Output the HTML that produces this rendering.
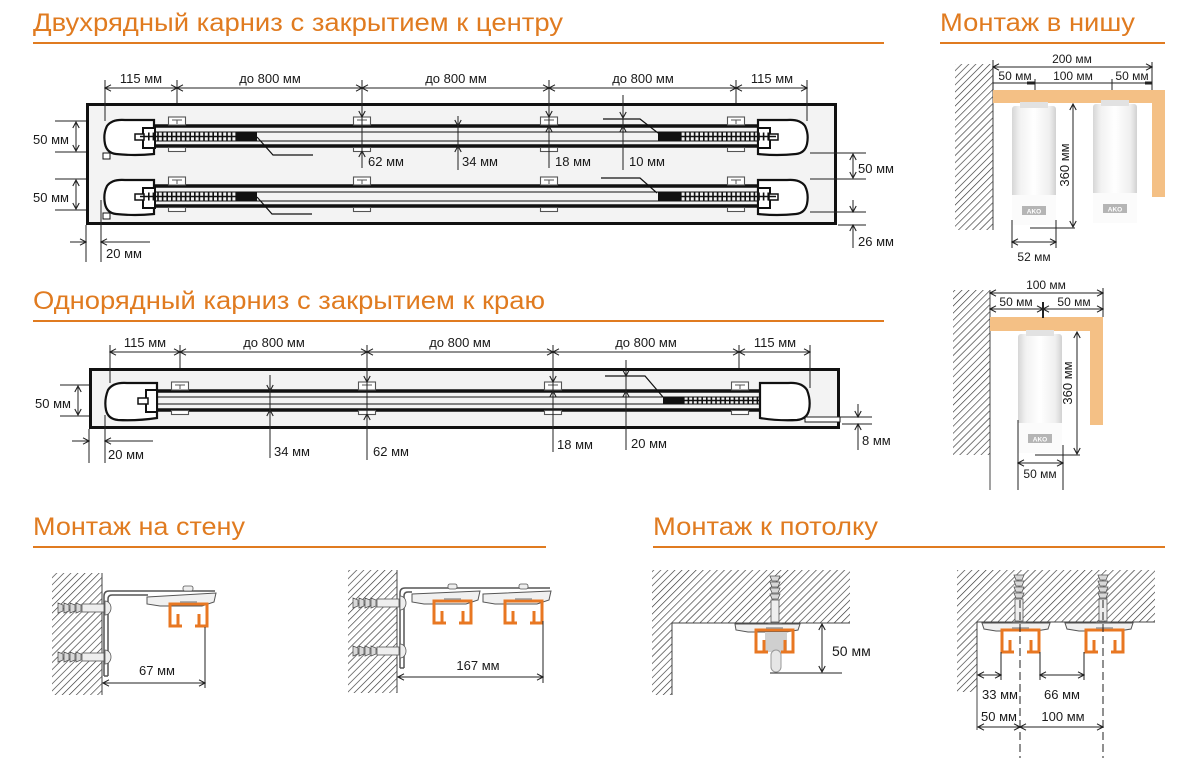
<!DOCTYPE html>
<html><head><meta charset="utf-8"><style>
html,body{margin:0;padding:0;background:#fff}
svg{display:block}
text{font-family:"Liberation Sans",sans-serif;fill:#1a1a1a}
.t{font-size:25px;fill:#E07B20}
.s{font-size:13px}
.n{font-size:12px}
</style></head><body>
<svg width="1199" height="774" viewBox="0 0 1199 774" xmlns="http://www.w3.org/2000/svg">
<defs>
<marker id="a" viewBox="0 0 8 8" refX="7" refY="4" markerWidth="8" markerHeight="8" markerUnits="userSpaceOnUse" orient="auto-start-reverse"><path d="M1,0.8 L7,4 L1,7.2" fill="none" stroke="#222" stroke-width="1.1"/></marker>
<pattern id="h" patternUnits="userSpaceOnUse" width="5" height="5" patternTransform="rotate(45)"><line x1="0" y1="0" x2="0" y2="5" stroke="#333" stroke-width="1.3"/></pattern>
<linearGradient id="tg" x1="0" x2="1" y1="0" y2="0">
<stop offset="0" stop-color="#d6d6d6"/><stop offset="0.18" stop-color="#f2f2f2"/><stop offset="0.5" stop-color="#ffffff"/><stop offset="0.85" stop-color="#efefef"/><stop offset="1" stop-color="#d2d2d2"/>
</linearGradient>
<g id="r1">
<g stroke="#111" fill="#fff" stroke-width="2.2">
<path d="M154,120 L125,120 Q112,119 107,126 Q103,134 105,144 Q107,153 116,154 Q135,156 154,154 Z"/>
<path d="M758,120 L787,120 Q800,119 805,126 Q809,134 807,144 Q805,153 796,154 Q777,156 758,154 Z"/>
<rect x="143" y="128" width="12" height="20" stroke-width="2"/>
<rect x="135" y="134" width="9" height="6" stroke-width="1.5"/>
<rect x="758" y="128" width="12" height="20" stroke-width="2"/>
<rect x="769" y="134" width="9" height="6" stroke-width="1.5"/>
</g>
<rect x="103" y="153" width="7" height="6" fill="#fff" stroke="#111" stroke-width="1"/>
<g stroke="#111" fill="none">
<line x1="155" y1="126" x2="758" y2="126" stroke-width="3.5"/>
<line x1="155" y1="146" x2="758" y2="146" stroke-width="3.5"/>
<line x1="155" y1="132" x2="758" y2="132" stroke-width="1"/>
<line x1="155" y1="141" x2="758" y2="141" stroke-width="1"/>
<line x1="148" y1="136.5" x2="236" y2="136.5" stroke-width="8" stroke-dasharray="1.6 3"/>
<line x1="140" y1="136.5" x2="236" y2="136.5" stroke-width="1.6"/>
<line x1="680" y1="136.5" x2="770" y2="136.5" stroke-width="8" stroke-dasharray="1.6 3"/>
<line x1="680" y1="136.5" x2="776" y2="136.5" stroke-width="1.6"/>
</g>
<rect x="236" y="132.5" width="21" height="8.5" fill="#111"/>
<rect x="658" y="132.5" width="22" height="8.5" fill="#111"/>
<g fill="#fff" stroke="#555" stroke-width="1.1">
<rect x="168.5" y="117" width="17" height="8"/><rect x="168.5" y="147.5" width="17" height="4"/>
<rect x="353.5" y="117" width="17" height="8"/><rect x="353.5" y="147.5" width="17" height="4"/>
<rect x="540.5" y="117" width="17" height="8"/><rect x="540.5" y="147.5" width="17" height="4"/>
<rect x="727.5" y="117" width="17" height="8"/><rect x="727.5" y="147.5" width="17" height="4"/>
</g>
<g stroke="#555" stroke-width="1" fill="none">
<path d="M172,120 L182,120 M177,120 L177,124"/>
<path d="M357,120 L367,120 M362,120 L362,124"/>
<path d="M544,120 L554,120 M549,120 L549,124"/>
<path d="M731,120 L741,120 M736,120 L736,124"/>
</g>
</g>
<g id="pf" fill="none" stroke="#E87722" stroke-width="3">
<path d="M14,25 L2,25 L2,3 L39,3 L39,25 L27,25"/>
<path d="M10,25 L10,13 M31,25 L31,13"/>
<path d="M12,1 L29,1" stroke="#999" stroke-width="1.5"/>
</g>
<g id="anc" stroke="#555" stroke-width="0.8">
<path d="M0,-5 L5,-3 L5,3 L0,5 Z M6,-5 L11,-3 L11,3 L6,5 Z M12,-5 L17,-3 L17,3 L12,5 Z M18,-5 L23,-3 L23,3 L18,5 Z" fill="#d8d8d8"/>
<rect x="24" y="-4" width="22" height="8" fill="#eee"/>
<path d="M47,-7 A6,7 0 0 1 47,7 Z" fill="#eee"/>
</g>
<g id="tube">
<rect x="0" y="4" width="44" height="119" rx="3" fill="url(#tg)"/>
<rect x="8" y="0" width="28" height="6" fill="#e2e2e2"/>
<rect x="0" y="93" width="44" height="30" fill="#fbfbfb"/>
<rect x="10" y="104" width="24" height="9" fill="#b5b5b5"/>
</g>
</defs>

<text class="t" x="33" y="31" textLength="530" lengthAdjust="spacingAndGlyphs">Двухрядный карниз с закрытием к центру</text>
<rect x="33" y="42" width="851" height="2" fill="#E07B20"/>
<text class="t" x="940" y="31" textLength="195" lengthAdjust="spacingAndGlyphs">Монтаж в нишу</text>
<rect x="940" y="42" width="225" height="2" fill="#E07B20"/>
<text class="t" x="33" y="309" textLength="512" lengthAdjust="spacingAndGlyphs">Однорядный карниз с закрытием к краю</text>
<rect x="33" y="320" width="851" height="2" fill="#E07B20"/>
<text class="t" x="33" y="535" textLength="212" lengthAdjust="spacingAndGlyphs">Монтаж на стену</text>
<rect x="33" y="546" width="513" height="2" fill="#E07B20"/>
<text class="t" x="653" y="535" textLength="225" lengthAdjust="spacingAndGlyphs">Монтаж к потолку</text>
<rect x="653" y="546" width="512" height="2" fill="#E07B20"/>

<rect x="87.5" y="104.5" width="748" height="119" fill="#f3f3f3" stroke="#111" stroke-width="3"/>
<use href="#r1"/>
<use href="#r1" y="60"/>
<g stroke="#111" stroke-width="1.2" fill="none">
<polyline points="257,137 273,155 313,155"/>
<polyline points="257,197 272,214 312,214"/>
<polyline points="603,119 640,119 658,133"/>
<polyline points="601,178 640,178 657,193"/>
</g>
<g stroke="#222" stroke-width="1" fill="none">
<line x1="105" y1="88" x2="177" y2="88" marker-start="url(#a)" marker-end="url(#a)"/>
<line x1="177" y1="88" x2="362" y2="88" marker-start="url(#a)" marker-end="url(#a)"/>
<line x1="362" y1="88" x2="549" y2="88" marker-start="url(#a)" marker-end="url(#a)"/>
<line x1="549" y1="88" x2="736" y2="88" marker-start="url(#a)" marker-end="url(#a)"/>
<line x1="736" y1="88" x2="807" y2="88" marker-start="url(#a)" marker-end="url(#a)"/>
<path d="M105,80 V121 M177,80 V103 M362,80 V168 M549,80 V168 M736,80 V103 M807,80 V121"/>
<line x1="362" y1="106" x2="362" y2="117" marker-end="url(#a)"/>
<line x1="362" y1="162" x2="362" y2="151" marker-end="url(#a)"/>
<line x1="458" y1="118" x2="458" y2="170"/>
<line x1="458" y1="116" x2="458" y2="126" marker-end="url(#a)"/>
<line x1="458" y1="156" x2="458" y2="146" marker-end="url(#a)"/>
<line x1="549" y1="107" x2="549" y2="117" marker-end="url(#a)"/>
<line x1="549" y1="136" x2="549" y2="126" marker-end="url(#a)"/>
<line x1="623" y1="95" x2="623" y2="170"/>
<line x1="623" y1="106" x2="623" y2="118" marker-end="url(#a)"/>
<line x1="623" y1="136" x2="623" y2="126" marker-end="url(#a)"/>
<path d="M55,121 H86 M55,152 H86 M55,179 H86 M55,210 H86"/>
<line x1="76" y1="122" x2="76" y2="151" marker-start="url(#a)" marker-end="url(#a)"/>
<line x1="76" y1="180" x2="76" y2="209" marker-start="url(#a)" marker-end="url(#a)"/>
<path d="M86,225 V262 M101,200 V262"/>
<line x1="70" y1="242" x2="86" y2="242" marker-end="url(#a)"/>
<line x1="150" y1="242" x2="101" y2="242" marker-end="url(#a)"/>
<path d="M810,153 H866 M810,179 H866 M810,212 H866 M838,225 H866"/>
<line x1="853" y1="154" x2="853" y2="178" marker-start="url(#a)" marker-end="url(#a)"/>
<line x1="853" y1="200" x2="853" y2="212" marker-end="url(#a)"/>
<line x1="853" y1="248" x2="853" y2="225" marker-end="url(#a)"/>
</g>
<g class="s">
<text x="141" y="83" text-anchor="middle">115 мм</text>
<text x="270" y="83" text-anchor="middle">до 800 мм</text>
<text x="456" y="83" text-anchor="middle">до 800 мм</text>
<text x="643" y="83" text-anchor="middle">до 800 мм</text>
<text x="772" y="83" text-anchor="middle">115 мм</text>
<text x="33" y="144">50 мм</text>
<text x="33" y="202">50 мм</text>
<text x="106" y="258">20 мм</text>
<text x="368" y="166">62 мм</text>
<text x="462" y="166">34 мм</text>
<text x="555" y="166">18 мм</text>
<text x="629" y="166">10 мм</text>
<text x="858" y="173">50 мм</text>
<text x="858" y="246">26 мм</text>
</g>

<rect x="90.5" y="369.5" width="748" height="58" fill="#f3f3f3" stroke="#111" stroke-width="3"/>
<rect x="805" y="417" width="35" height="5" fill="#fff" stroke="#111" stroke-width="1"/>
<g stroke="#111" fill="#fff" stroke-width="2.2">
<path d="M157,383 L127,383 Q113,382 108,390 Q104,400 106,410 Q108,419 118,420 Q137,421 157,418 Z"/>
<path d="M760,383 L788,383 Q802,382 807,390 Q811,400 809,410 Q807,419 797,420 Q778,421 760,418 Z"/>
<rect x="146" y="390" width="11" height="22" stroke-width="2"/>
<rect x="138" y="398" width="10" height="6" stroke-width="1.5"/>
</g>
<g stroke="#111" fill="none">
<line x1="157" y1="391" x2="760" y2="391" stroke-width="3.5"/>
<line x1="157" y1="410" x2="760" y2="410" stroke-width="3.5"/>
<line x1="157" y1="397" x2="760" y2="397" stroke-width="1"/>
<line x1="157" y1="404" x2="760" y2="404" stroke-width="1"/>
<line x1="683" y1="400.5" x2="760" y2="400.5" stroke-width="7" stroke-dasharray="1.6 3"/>
<line x1="683" y1="400.5" x2="760" y2="400.5" stroke-width="1.4"/>
<polyline points="605,376 645,376 663,397" stroke-width="1.2"/>
</g>
<rect x="663" y="397" width="20" height="7.5" fill="#111"/>
<g fill="#fff" stroke="#555" stroke-width="1.1">
<rect x="171.5" y="382" width="17" height="8"/><rect x="171.5" y="410.5" width="17" height="4"/>
<rect x="358.5" y="382" width="17" height="8"/><rect x="358.5" y="410.5" width="17" height="4"/>
<rect x="544.5" y="382" width="17" height="8"/><rect x="544.5" y="410.5" width="17" height="4"/>
<rect x="731.5" y="382" width="17" height="8"/><rect x="731.5" y="410.5" width="17" height="4"/>
</g>
<g stroke="#555" stroke-width="1" fill="none">
<path d="M175,385 L185,385 M180,385 L180,389"/>
<path d="M362,385 L372,385 M367,385 L367,389"/>
<path d="M548,385 L558,385 M553,385 L553,389"/>
<path d="M735,385 L745,385 M740,385 L740,389"/>
</g>
<g stroke="#222" stroke-width="1" fill="none">
<line x1="110" y1="352" x2="180" y2="352" marker-start="url(#a)" marker-end="url(#a)"/>
<line x1="180" y1="352" x2="367" y2="352" marker-start="url(#a)" marker-end="url(#a)"/>
<line x1="367" y1="352" x2="553" y2="352" marker-start="url(#a)" marker-end="url(#a)"/>
<line x1="553" y1="352" x2="739" y2="352" marker-start="url(#a)" marker-end="url(#a)"/>
<line x1="739" y1="352" x2="810" y2="352" marker-start="url(#a)" marker-end="url(#a)"/>
<path d="M110,345 V383 M180,345 V368 M367,345 V460 M553,345 V452 M739,345 V368 M810,345 V388"/>
<path d="M60,385 H89 M60,416 H89"/>
<line x1="78" y1="386" x2="78" y2="415" marker-start="url(#a)" marker-end="url(#a)"/>
<path d="M89,429 V463 M105,415 V463"/>
<line x1="72" y1="441" x2="89" y2="441" marker-end="url(#a)"/>
<line x1="153" y1="441" x2="105" y2="441" marker-end="url(#a)"/>
<line x1="270" y1="375" x2="270" y2="458"/>
<line x1="270" y1="381" x2="270" y2="391" marker-end="url(#a)"/>
<line x1="270" y1="420" x2="270" y2="410" marker-end="url(#a)"/>
<line x1="367" y1="372" x2="367" y2="382" marker-end="url(#a)"/>
<line x1="367" y1="424" x2="367" y2="414" marker-end="url(#a)"/>
<line x1="553" y1="372" x2="553" y2="382" marker-end="url(#a)"/>
<line x1="553" y1="401" x2="553" y2="391" marker-end="url(#a)"/>
<line x1="626" y1="360" x2="626" y2="450"/>
<line x1="626" y1="366" x2="626" y2="376" marker-end="url(#a)"/>
<line x1="626" y1="401" x2="626" y2="391" marker-end="url(#a)"/>
<path d="M805,417 H872 M842,424 H872"/>
<line x1="858" y1="404" x2="858" y2="417" marker-end="url(#a)"/>
<line x1="858" y1="450" x2="858" y2="424" marker-end="url(#a)"/>
</g>
<g class="s">
<text x="145" y="347" text-anchor="middle">115 мм</text>
<text x="274" y="347" text-anchor="middle">до 800 мм</text>
<text x="460" y="347" text-anchor="middle">до 800 мм</text>
<text x="646" y="347" text-anchor="middle">до 800 мм</text>
<text x="775" y="347" text-anchor="middle">115 мм</text>
<text x="35" y="408">50 мм</text>
<text x="108" y="459">20 мм</text>
<text x="274" y="456">34 мм</text>
<text x="373" y="456">62 мм</text>
<text x="557" y="449">18 мм</text>
<text x="631" y="448">20 мм</text>
<text x="862" y="445">8 мм</text>
</g>

<rect x="955" y="64" width="38" height="166" fill="url(#h)"/>
<line x1="993" y1="64" x2="993" y2="230" stroke="#444" stroke-width="1"/>
<path d="M993,90 L1165,90 L1165,197 L1152,197 L1152,103 L993,103 Z" fill="#F4C085"/>
<use href="#tube" x="1012" y="102"/>
<use href="#tube" x="1093" y="100"/>
<g stroke="#222" stroke-width="1" fill="none">
<line x1="993" y1="67" x2="1152" y2="67" marker-start="url(#a)" marker-end="url(#a)"/>
<path d="M1152,62 V90 M993,60 V90"/>
<path d="M993,83 H1152 M1035,79 V90 M1112,79 V90"/>
<path d="M1027,83 H1035 M1145,83 H1152" stroke-width="3"/>
<line x1="1073" y1="104" x2="1073" y2="227" marker-start="url(#a)" marker-end="url(#a)"/>
<path d="M1030,228 H1075"/>
<path d="M1012,220 V248 M1056,220 V248"/>
<line x1="1012" y1="242" x2="1056" y2="242" marker-start="url(#a)" marker-end="url(#a)"/>
</g>
<g class="n">
<text x="1072" y="63" text-anchor="middle">200 мм</text>
<text x="1015" y="80" text-anchor="middle">50 мм</text>
<text x="1073" y="80" text-anchor="middle">100 мм</text>
<text x="1132" y="80" text-anchor="middle">50 мм</text>
<text x="1034" y="261" text-anchor="middle">52 мм</text>
<text transform="translate(1069,165) rotate(-90)" text-anchor="middle" font-size="13">360 мм</text>
</g>
<g font-size="6.5" font-weight="bold" text-anchor="middle"><text x="1034" y="213.5" style="fill:#fff">AKO</text><text x="1115" y="211.5" style="fill:#fff">AKO</text></g>

<rect x="953" y="290" width="37" height="165" fill="url(#h)"/>
<line x1="990" y1="290" x2="990" y2="490" stroke="#444" stroke-width="1"/>
<path d="M990,317 L1103,317 L1103,425 L1090,425 L1090,331 L990,331 Z" fill="#F4C085"/>
<use href="#tube" x="1018" y="330"/>
<g stroke="#222" stroke-width="1" fill="none">
<line x1="990" y1="293" x2="1103" y2="293" marker-start="url(#a)" marker-end="url(#a)"/>
<path d="M1103,288 V317"/>
<line x1="990" y1="309" x2="1043" y2="309" marker-start="url(#a)" marker-end="url(#a)"/>
<line x1="1043" y1="309" x2="1103" y2="309" marker-start="url(#a)" marker-end="url(#a)"/>
<path d="M1043,302 V318" stroke-width="2"/>
<line x1="1077" y1="332" x2="1077" y2="454" marker-start="url(#a)" marker-end="url(#a)"/>
<path d="M1035,455 H1080"/>
<path d="M1018,420 V490 M1063,445 V490"/>
<line x1="1018" y1="463" x2="1063" y2="463" marker-start="url(#a)" marker-end="url(#a)"/>
</g>
<g class="n">
<text x="1046" y="289" text-anchor="middle">100 мм</text>
<text x="1016" y="306" text-anchor="middle">50 мм</text>
<text x="1074" y="306" text-anchor="middle">50 мм</text>
<text x="1040" y="478" text-anchor="middle">50 мм</text>
<text transform="translate(1072,383) rotate(-90)" text-anchor="middle" font-size="13">360 мм</text>
</g>
<text x="1040" y="441.5" font-size="6.5" font-weight="bold" text-anchor="middle" style="fill:#fff">AKO</text>

<rect x="52" y="573" width="50" height="122" fill="url(#h)"/>
<line x1="102" y1="573" x2="102" y2="695" stroke="#444" stroke-width="1"/>
<g stroke="#555" stroke-width="1.5" fill="none">
<path d="M104,676 L104,596 Q104,591 109,591 L215,591"/>
<path d="M108,676 L108,599 Q108,595 112,595 L148,595"/>
<path d="M104,676 H108"/>
</g>
<path d="M147,597 L216,593 L214,602 L202,606 L160,606 L147,604 Z" fill="#f0f0f0" stroke="#555" stroke-width="1"/>
<rect x="183" y="586" width="10" height="5" rx="2" fill="#eee" stroke="#555" stroke-width="0.8"/>
<use href="#anc" x="58" y="608"/>
<use href="#anc" x="58" y="657"/>
<use href="#pf" x="168" y="601"/>
<g stroke="#222" stroke-width="1" fill="none">
<line x1="103" y1="683" x2="205" y2="683" marker-start="url(#a)" marker-end="url(#a)"/>
<path d="M205,627 V688"/>
</g>
<text class="s" x="157" y="675" text-anchor="middle">67 мм</text>

<rect x="348" y="570" width="49" height="123" fill="url(#h)"/>
<line x1="397" y1="570" x2="397" y2="693" stroke="#444" stroke-width="1"/>
<g stroke="#555" stroke-width="1.5" fill="none">
<path d="M400,668 L400,593 Q400,588 405,588 L550,588"/>
<path d="M404,668 L404,596 Q404,592 408,592 L412,592"/>
<path d="M400,668 H404"/>
</g>
<path d="M412,594 L480,591 L478,600 L466,604 L424,604 L412,602 Z" fill="#f0f0f0" stroke="#555" stroke-width="1"/>
<path d="M483,594 L551,591 L549,600 L537,604 L495,604 L483,602 Z" fill="#f0f0f0" stroke="#555" stroke-width="1"/>
<rect x="448" y="584" width="9" height="5" rx="2" fill="#eee" stroke="#555" stroke-width="0.8"/>
<rect x="519" y="584" width="9" height="5" rx="2" fill="#eee" stroke="#555" stroke-width="0.8"/>
<use href="#anc" x="353" y="603"/>
<use href="#anc" x="353" y="651"/>
<use href="#pf" x="432" y="598"/>
<use href="#pf" x="503" y="598"/>
<g stroke="#222" stroke-width="1" fill="none">
<line x1="398" y1="677" x2="543" y2="677" marker-start="url(#a)" marker-end="url(#a)"/>
<path d="M543,621 V683"/>
</g>
<text class="s" x="478" y="670" text-anchor="middle">167 мм</text>

<path d="M652,570 L850,570 L850,623 L672,623 L672,695 L652,695 Z" fill="url(#h)"/>
<path d="M672,695 L672,623 L850,623" fill="none" stroke="#444" stroke-width="1"/>
<use href="#anc" transform="translate(775,576) rotate(90)"/>
<path d="M735,624 L800,624 L798,630 L786,632 L748,632 L736,630 Z" fill="#f0f0f0" stroke="#555" stroke-width="1"/>
<rect x="765" y="632" width="22" height="20" fill="#cfcfcf"/>
<rect x="771" y="650" width="10" height="22" rx="5" fill="#e6e6e6" stroke="#999" stroke-width="1"/>
<use href="#pf" x="754" y="627"/>
<g stroke="#222" stroke-width="1" fill="none">
<line x1="822" y1="624" x2="822" y2="672" marker-start="url(#a)" marker-end="url(#a)"/>
<path d="M770,673 H842"/>
</g>
<text x="832" y="656" font-size="14">50 мм</text>

<path d="M957,570 L1155,570 L1155,622 L977,622 L977,692 L957,692 Z" fill="url(#h)"/>
<path d="M977,730 L977,622 L1155,622" fill="none" stroke="#444" stroke-width="1"/>
<use href="#anc" transform="translate(1019,575) rotate(90)"/>
<use href="#anc" transform="translate(1103,575) rotate(90)"/>
<path d="M982,623 L1050,623 L1048,629 L1036,631 L996,631 L984,629 Z" fill="#f0f0f0" stroke="#555" stroke-width="1"/>
<path d="M1065,623 L1133,623 L1131,629 L1119,631 L1079,631 L1067,629 Z" fill="#f0f0f0" stroke="#555" stroke-width="1"/>
<use href="#pf" x="1000" y="627"/>
<use href="#pf" x="1084" y="627"/>
<g stroke="#222" stroke-width="1" fill="none">
<path d="M1020,600 V758 M1103,600 V758" stroke-dasharray="8 4"/>
<path d="M1001,652 V680 M1040,652 V680 M1084,652 V680"/>
<line x1="978" y1="675" x2="1001" y2="675" marker-start="url(#a)" marker-end="url(#a)"/>
<line x1="1040" y1="675" x2="1084" y2="675" marker-start="url(#a)" marker-end="url(#a)"/>
<line x1="978" y1="727" x2="1020" y2="727" marker-start="url(#a)" marker-end="url(#a)"/>
<line x1="1020" y1="727" x2="1103" y2="727" marker-start="url(#a)" marker-end="url(#a)"/>
</g>
<g class="s">
<text x="1000" y="699" text-anchor="middle">33 мм</text>
<text x="1062" y="699" text-anchor="middle">66 мм</text>
<text x="999" y="721" text-anchor="middle">50 мм</text>
<text x="1063" y="721" text-anchor="middle">100 мм</text>
</g>
</svg>
</body></html>
